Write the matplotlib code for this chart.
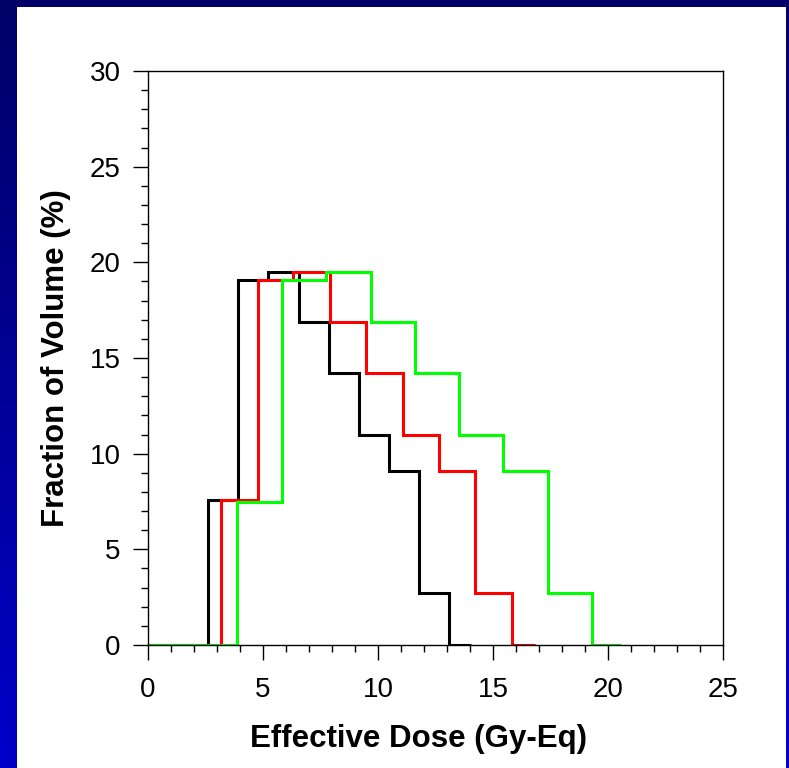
import numpy as np
import matplotlib.pyplot as plt
from matplotlib.patches import Rectangle
from matplotlib.ticker import MultipleLocator

plt.rcParams['font.family'] = ['Liberation Sans', 'DejaVu Sans']

# bin edges (Gy-Eq) and bin heights (% volume)
black_edges = [0, 2.62, 3.93, 5.23, 6.58, 7.87, 9.19, 10.49, 11.80, 13.10, 14.03]
black_vals = [0, 7.6, 19.1, 19.5, 16.9, 14.2, 11.0, 9.1, 2.7, 0]

red_edges = [0, 3.17, 4.77, 6.32, 7.91, 9.48, 11.07, 12.67, 14.23, 15.81, 16.83]
red_vals = [0, 7.6, 19.1, 19.5, 16.9, 14.2, 11.0, 9.1, 2.7, 0]

green_edges = [0, 3.86, 5.81, 7.72, 9.68, 11.61, 13.54, 15.45, 17.40, 19.32, 20.55]
green_vals = [0, 7.5, 19.1, 19.5, 16.9, 14.2, 11.0, 9.1, 2.7, 0]

x_ticks = [0, 5, 10, 15, 20, 25]
y_ticks = [0, 5, 10, 15, 20, 25, 30]

fig = plt.figure(figsize=(7.89, 7.68), dpi=100)

# slide-style background: blue gradient frame with white panel
bg = fig.add_axes([0, 0, 1, 1], zorder=-10)
grad = np.linspace(0, 1, 256).reshape(-1, 1)
top_col = np.array([0.0, 0.0, 0.40])
bot_col = np.array([0.0, 0.0, 0.79])
img = top_col + grad * (bot_col - top_col)
bg.imshow(img.reshape(256, 1, 3), aspect='auto', extent=[0, 1, 0, 1], origin='upper')
bg.add_patch(Rectangle((17 / 789, 0), (786 - 17) / 789, (768 - 7) / 768,
                       facecolor='white', edgecolor='none'))
bg.set_xlim(0, 1)
bg.set_ylim(0, 1)
bg.axis('off')

ax = fig.add_axes([148 / 789, 123 / 768, (723 - 148) / 789, (645 - 71) / 768])
ax.set_facecolor('white')

ax.stairs(black_vals, black_edges, baseline=None, color='black', linewidth=2.2)
ax.stairs(red_vals, red_edges, baseline=None, color='#ff0000', linewidth=2.2)
ax.stairs(green_vals, green_edges, baseline=None, color='#00ff00', linewidth=2.2)

ax.set_xlim(0, 25)
ax.set_ylim(0, 30)
ax.set_xticks(x_ticks)
ax.set_yticks(y_ticks)
ax.xaxis.set_minor_locator(MultipleLocator(1))
ax.yaxis.set_minor_locator(MultipleLocator(1))
ax.tick_params(which='major', direction='out', length=10.8, width=1, labelsize=20)
ax.tick_params(axis='x', which='major', pad=12)
ax.tick_params(axis='y', which='major', pad=9)
ax.tick_params(which='minor', direction='out', length=5, width=1)
for s in ax.spines.values():
    s.set_linewidth(1)

# the x label sits a little left of the axis centre in the original
ax.set_xlabel('Effective Dose (Gy-Eq)', fontsize=22.5, fontweight='bold',
              labelpad=15, x=0.4696)
ax.set_ylabel('Fraction of Volume (%)', fontsize=22.5, fontweight='bold', labelpad=13)

fig.savefig('out.png', dpi=100)
